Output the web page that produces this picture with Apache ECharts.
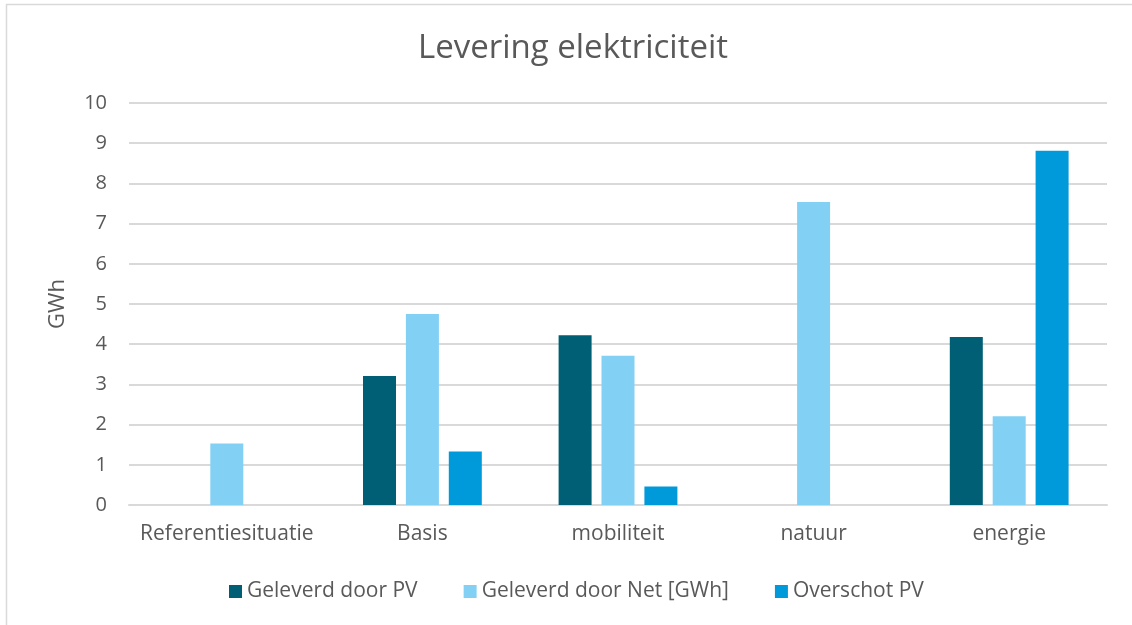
<!DOCTYPE html>
<html><head><meta charset="utf-8">
<script src="https://cdn.jsdelivr.net/npm/echarts@6/dist/echarts.min.js"></script>
<style>html,body{margin:0;padding:0;background:#fff}#c{width:1132px;height:625px}</style>
</head><body><div id="c"></div>
<script>
const categories = ['Referentiesituatie', 'Basis', 'mobiliteit', 'natuur', 'energie'];
const seriesNames = ['Geleverd door PV', 'Geleverd door Net [GWh]', 'Overschot PV'];
const pvValues = [null, 3.21, 4.22, null, 4.18];
const netValues = [1.53, 4.75, 3.71, 7.54, 2.21];
const overschotValues = [null, 1.33, 0.46, null, 8.81];
const yTicks = [0, 1, 2, 3, 4, 5, 6, 7, 8, 9, 10];
const colors = ['#005E75', '#83D0F5', '#0099D9'];

const FONT = 'Open Sans';
const chart = echarts.init(document.getElementById('c'));
chart.setOption({
  animation: false,
  textStyle: { fontFamily: FONT },
  title: {
    text: 'Levering elektriciteit', left: 568, textAlign: 'center', top: 27,
    textStyle: { fontFamily: FONT, fontSize: 33, fontWeight: 'normal', color: '#595959' }
  },
  graphic: [{
    type: 'rect', shape: { x: 6.5, y: 4.5, width: 1140, height: 640 },
    style: { fill: 'none', stroke: '#d9d9d9', lineWidth: 1.5 }, silent: true
  }],
  legend: {
    top: 576, left: 224, itemWidth: 13, itemHeight: 13, itemGap: 46,
    icon: 'rect',
    textStyle: { fontFamily: FONT, fontSize: 21, color: '#595959' },
    data: seriesNames
  },
  grid: { left: 129, right: 25, top: 103, bottom: 120, containLabel: false },
  xAxis: {
    type: 'category', data: categories,
    axisLine: { show: true, lineStyle: { color: '#d9d9d9', width: 2 } },
    axisTick: { show: false },
    axisLabel: { interval: 0, fontSize: 21, color: '#595959', margin: 19, fontFamily: FONT }
  },
  yAxis: {
    type: 'value', min: yTicks[0], max: yTicks[yTicks.length - 1], interval: 1,
    name: 'GWh', nameLocation: 'middle', nameGap: 60, nameRotate: 90,
    nameTextStyle: { fontSize: 22, color: '#595959', fontFamily: FONT },
    axisLine: { show: false }, axisTick: { show: false },
    axisLabel: { fontSize: 20, color: '#595959', margin: 22, fontFamily: FONT },
    splitLine: { lineStyle: { color: '#d9d9d9', width: 2 } }
  },
  series: [
    { name: seriesNames[0], type: 'bar', data: pvValues, barWidth: 33, barGap: '30%', itemStyle: { color: colors[0] } },
    { name: seriesNames[1], type: 'bar', data: netValues, barWidth: 33, barGap: '30%', itemStyle: { color: colors[1] } },
    { name: seriesNames[2], type: 'bar', data: overschotValues, barWidth: 33, barGap: '30%', itemStyle: { color: colors[2] } }
  ]
});
</script></body></html>
